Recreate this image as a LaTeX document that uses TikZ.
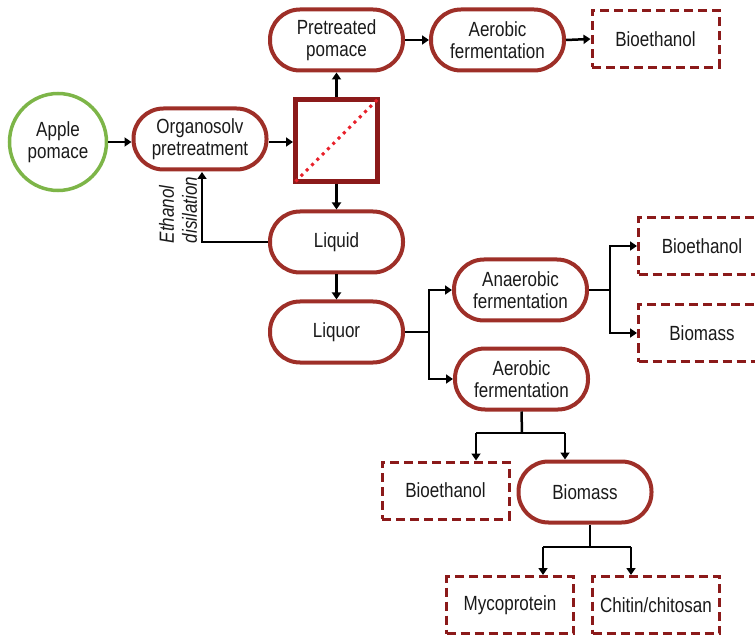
\documentclass[tikz,border=0pt]{standalone}
\usepackage{fontspec}
\setmainfont[FakeStretch=0.83]{Liberation Sans}
\usetikzlibrary{arrows.meta,calc}
\definecolor{boxred}{HTML}{9E2F28}
\definecolor{dashred}{HTML}{8B1A1A}
\definecolor{sqred}{HTML}{8B1A1A}
\definecolor{dotred}{HTML}{E8202A}
\definecolor{applegreen}{HTML}{7DB548}
\definecolor{txt}{HTML}{1A1A1A}
\tikzset{
  every node/.style={font=\fontsize{20.5}{22}\selectfont, text=txt, align=center},
  roundbox/.style={draw=boxred, line width=4pt, rounded corners=30pt, fill=white,
    minimum width=133pt, minimum height=61pt, inner sep=0pt},
  dashbox/.style={draw=dashred, line width=3pt, dash pattern=on 9pt off 5pt, fill=white,
    minimum width=127pt, minimum height=57pt, inner sep=0pt},
  conn/.style={draw=black, line width=2.5pt},
  arr/.style={conn, -{Triangle[length=7pt,width=9pt]}},
}
\begin{document}
\begin{tikzpicture}[x=1pt,y=-1pt]
\useasboundingbox (0,0) rectangle (755,636);
% nodes
\node[draw=applegreen, line width=3.5pt, circle, minimum size=97pt, inner sep=0pt] (apple) at (58,142) {Apple\\pomace};
\node[roundbox] (orga) at (200,139) {Organosolv\\pretreatment};
\node[draw=sqred, line width=5pt, minimum size=82pt, inner sep=0pt] (sq) at (336.5,140.5) {};
\draw[dotred, line width=3pt, dash pattern=on 3pt off 4.5pt] ($(sq.south west)+(2.5,-2.5)$) -- ($(sq.north east)+(-2.5,2.5)$);
\node[roundbox] (pre) at (336.5,40) {Pretreated\\pomace};
\node[roundbox] (aer1) at (497.5,40) {Aerobic\\fermentation};
\node[dashbox] (bioe1) at (655.5,39) {Bioethanol};
\node[roundbox] (liquid) at (336.5,242) {Liquid};
\node[roundbox] (liquor) at (336.5,332) {Liquor};
\node[roundbox] (anaer) at (520.5,290) {Anaerobic\\fermentation};
\node[roundbox] (aer2) at (521.5,379) {Aerobic\\fermentation};
\node[dashbox] (bioe2) at (702,246) {Bioethanol};
\node[dashbox] (biom2) at (702,333) {Biomass};
\node[dashbox] (bioe3) at (445.5,490.5) {Bioethanol};
\node[roundbox] (biom3) at (585,492) {Biomass};
\node[dashbox] (myco) at (510,605) {Mycoprotein};
\node[dashbox] (chit) at (656,605) {Chitin/chitosan};
\node[rotate=90, align=left, font=\itshape\fontsize{20.5}{23}\selectfont] (etlab) at (178,210) {Ethanol\\disilation};
% connectors
\draw[arr] (apple.east) -- (orga.west |- apple.east);
\draw[arr] (orga.east |- 0,142) -- (sq.west |- 0,142);
\draw[arr] (sq.north) -- (pre.south);
\draw[arr] (pre.east) -- (aer1.west);
\draw[arr] (aer1.east) -- (bioe1.west);
\draw[arr] (sq.south) -- (liquid.north);
\draw[arr] (liquid.west) -| (202,172);
\draw[arr] (liquid.south) -- (liquor.north);
\coordinate (j1) at (429,332);
\draw[conn] (liquor.east) -- (j1);
\draw[arr] (j1) |- (anaer.west);
\draw[arr] (j1) |- (aer2.west);
\coordinate (j2) at (610,290);
\draw[conn] (anaer.east) -- (j2);
\draw[arr] (j2) |- (bioe2.west);
\draw[arr] (j2) |- (biom2.west);
\coordinate (j3) at (522,433);
\coordinate (j3l) at (476,433);
\coordinate (j3r) at (565,433);
\draw[conn] (aer2.south) -- (j3);
\draw[conn] (j3l) -- (j3r);
\draw[arr] (j3l) -- (j3l |- bioe3.north);
\draw[arr] (j3r) -- (j3r |- biom3.north);
\coordinate (j4) at (590,547);
\coordinate (j4l) at (543,547);
\coordinate (j4r) at (631,547);
\draw[conn] (biom3.south -| j4) -- (j4);
\draw[conn] (j4l) -- (j4r);
\draw[arr] (j4l) -- (j4l |- myco.north);
\draw[arr] (j4r) -- (j4r |- chit.north);
\end{tikzpicture}
\end{document}
